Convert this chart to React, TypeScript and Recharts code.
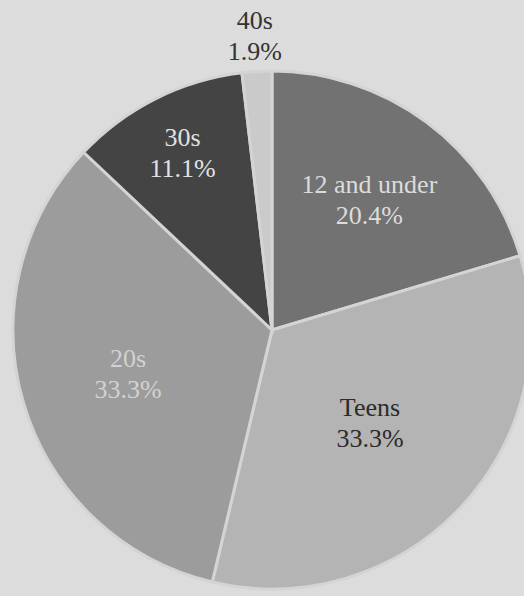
import { PieChart, Pie, Cell } from "recharts"

const groups = ["12 and under", "Teens", "20s", "30s", "40s"]
const counts = [11, 18, 18, 6, 1]
const fills = ["#727272", "#b4b4b4", "#9c9c9c", "#444444", "#cacaca"]
const textColors = ["#dcdcdc", "#2b2b2b", "#d2d2d2", "#e2e2e2", "#333333"]

// how far from the centre each label sits, as a share of the radius
const labelDist: Record<string, number> = {
    "12 and under": 0.63,
    Teens: 0.52,
    "20s": 0.58,
    "30s": 0.77,
    "40s": 1.14,
}

const data = groups.map((g, i) => ({ name: g, value: counts[i] }))

const RAD = Math.PI / 180
const serif = "Liberation Serif, DejaVu Serif, serif"

function renderLabel(props: any) {
    const { cx, cy, midAngle, outerRadius, percent, name, index } = props
    const r = outerRadius * (labelDist[name] ?? 0.6)
    const x = cx + Math.cos(-midAngle * RAD) * r
    const y = cy + Math.sin(-midAngle * RAD) * r
    return (
        <g key={`lbl-${name}`}>
            <text x={x} y={y - 6} textAnchor="middle" fill={textColors[index]} fontFamily={serif} fontSize={26}>
                {name}
            </text>
            <text x={x} y={y + 25} textAnchor="middle" fill={textColors[index]} fontFamily={serif} fontSize={26}>
                {(percent * 100).toFixed(1)}%
            </text>
        </g>
    )
}

export default function App() {
    return (
        <div style={{ width: 524, height: 596, background: "#dcdcdc", fontFamily: serif }}>
            <style>{`body{margin:0} .recharts-wrapper text{font-family:${serif} !important}`}</style>
            <PieChart width={524} height={596} margin={{ top: 0, right: 0, bottom: 0, left: 0 }}>
                <Pie
                    data={data}
                    dataKey="value"
                    nameKey="name"
                    cx={272}
                    cy={330}
                    outerRadius={259}
                    startAngle={90}
                    endAngle={-270}
                    stroke="#d4d4d4"
                    strokeWidth={3}
                    label={renderLabel}
                    labelLine={false}
                    isAnimationActive={false}
                >
                    {data.map((d, i) => (
                        <Cell key={d.name} fill={fills[i]} />
                    ))}
                </Pie>
            </PieChart>
        </div>
    )
}
